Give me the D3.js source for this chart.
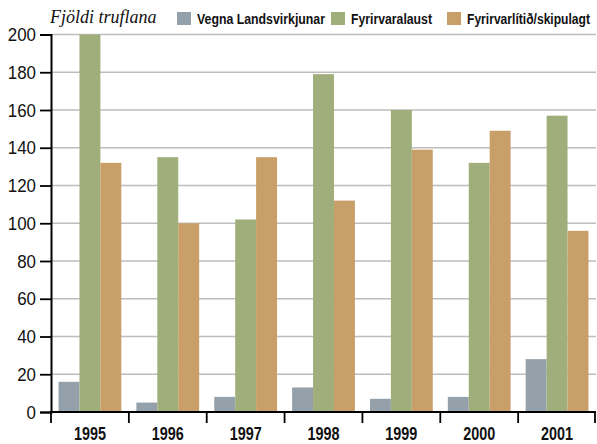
<!DOCTYPE html>
<html>
<head>
<meta charset="utf-8">
<script src="https://cdn.jsdelivr.net/npm/d3@7"></script>
<style>
  body { margin: 0; background: #fff; }
  svg { display: block; }
  .cond { font-family: "Liberation Sans", Arial, sans-serif; }
</style>
</head>
<body>
<div id="chart"></div>
<script>
// ártöl og gildi lesin af myndinni
const years = ["1995", "1996", "1997", "1998", "1999", "2000", "2001"];
const seriesNames = ["Vegna Landsvirkjunar", "Fyrirvaralaust", "Fyrirvarlítið/skipulagt"];
const landsvirkjun = [16, 5, 8, 13, 7, 8, 28];
const fyrirvaralaust = [200, 135, 102, 179, 160, 132, 157];
const skipulagt = [132, 100, 135, 112, 139, 149, 96];
const yTicks = [0, 20, 40, 60, 80, 100, 120, 140, 160, 180, 200];
const colors = ["#95a1aa", "#a0ae7b", "#c89e69"];

const series = [landsvirkjun, fyrirvaralaust, skipulagt];

const width = 597, height = 444;
const margin = { top: 34.5, right: 1, bottom: 32, left: 51 };

// letrið í frumriti er þjappað — þjöppum með textLength
const digitW = 9.4;
const legendW = [128, 81, 123];

const svg = d3.select("#chart").append("svg")
  .attr("width", width)
  .attr("height", height);

const x = d3.scaleBand()
  .domain(years)
  .range([margin.left, width - margin.right])
  .paddingInner(0);

const inner = d3.scaleBand()
  .domain(d3.range(series.length))
  .range([0, x.bandwidth()])
  .paddingOuter(0.36)
  .paddingInner(0);

const y = d3.scaleLinear()
  .domain([0, 200])
  .range([height - margin.bottom, margin.top]);

// ── grid ──
svg.append("g")
  .selectAll("line")
  .data(yTicks.filter(d => d > 0))
  .join("line")
  .attr("x1", margin.left)
  .attr("x2", width - margin.right)
  .attr("y1", d => y(d))
  .attr("y2", d => y(d))
  .attr("stroke", "#bdbdbd")
  .attr("stroke-width", 1.6);

// ── bars ──
const group = svg.append("g")
  .selectAll("g")
  .data(years)
  .join("g")
  .attr("transform", d => `translate(${x(d)},0)`);

group.selectAll("rect")
  .data((yr, i) => series.map((s, k) => ({ k, v: s[i] })))
  .join("rect")
  .attr("x", d => inner(d.k))
  .attr("width", inner.bandwidth())
  .attr("y", d => y(d.v))
  .attr("height", d => y(0) - y(d.v))
  .attr("fill", d => colors[d.k]);

// ── y axis ──
const yAxis = svg.append("g")
  .attr("transform", `translate(${margin.left},0)`)
  .call(d3.axisLeft(y).tickValues(yTicks).tickSize(11).tickPadding(4));
yAxis.select(".domain").attr("stroke", "#000").attr("stroke-width", 2);
yAxis.selectAll(".tick line").attr("stroke", "#000").attr("stroke-width", 1.8);
yAxis.selectAll(".tick text")
  .attr("class", "cond")
  .attr("font-size", 19)
  .attr("fill", "#111")
  .attr("textLength", d => String(d).length * digitW)
  .attr("lengthAdjust", "spacingAndGlyphs");

// ── x axis ──
const xAxisY = y(0);
svg.append("line")
  .attr("x1", margin.left - 1)
  .attr("x2", width - margin.right)
  .attr("y1", xAxisY)
  .attr("y2", xAxisY)
  .attr("stroke", "#000")
  .attr("stroke-width", 2);

svg.append("g")
  .selectAll("line")
  .data(years.concat(["end"]))
  .join("line")
  .attr("x1", d => d === "end" ? width - 2 : x(d))
  .attr("x2", d => d === "end" ? width - 2 : x(d))
  .attr("y1", xAxisY)
  .attr("y2", xAxisY + 11)
  .attr("stroke", "#000")
  .attr("stroke-width", 1.8);

svg.append("g")
  .selectAll("text")
  .data(years)
  .join("text")
  .attr("class", "cond")
  .attr("x", d => x(d) + x.bandwidth() / 2)
  .attr("y", 440)
  .attr("text-anchor", "middle")
  .attr("font-size", 18)
  .attr("font-weight", "bold")
  .attr("fill", "#111")
  .attr("textLength", 32)
  .attr("lengthAdjust", "spacingAndGlyphs")
  .text(d => d);

// ── title ──
svg.append("text")
  .attr("x", 50)
  .attr("y", 23)
  .attr("font-family", "'Liberation Serif', 'DejaVu Serif', serif")
  .attr("font-style", "italic")
  .attr("font-size", 18)
  .attr("fill", "#111")
  .text("Fjöldi truflana");

// ── legend ──
// minna letur, teygt lóðrétt, svo textinn passi innan myndar
const legendX = [177, 331, 447];
const legend = svg.append("g")
  .selectAll("g")
  .data(seriesNames)
  .join("g")
  .attr("transform", (d, i) => `translate(${legendX[i]},12)`);

legend.append("rect")
  .attr("width", 14)
  .attr("height", 13)
  .attr("fill", (d, i) => colors[i]);

legend.append("text")
  .attr("class", "cond")
  .attr("transform", "translate(20,11.5) scale(1,1.27)")
  .attr("font-size", 11)
  .attr("font-weight", "bold")
  .attr("fill", "#111")
  .attr("textLength", (d, i) => legendW[i])
  .attr("lengthAdjust", "spacingAndGlyphs")
  .text(d => d);
</script>
</body>
</html>
